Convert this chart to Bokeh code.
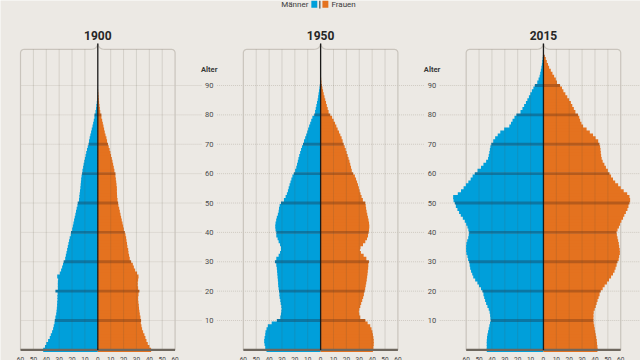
import numpy as np
from bokeh.plotting import figure
from bokeh.models import Range1d
from bokeh.core.properties import value
from bokeh.embed import file_html
from bokeh.resources import INLINE

# ---------------- data ----------------
years = ["1900", "1950", "2015"]
ages = list(range(0, 101))
age_ticks = [10, 20, 30, 40, 50, 60, 70, 80, 90]
x_ticks = [-60, -50, -40, -30, -20, -10, 0, 10, 20, 30, 40, 50, 60]
legend_labels = ["Männer", "Frauen"]
axis_title = "Alter"

men_1900 = [42.4, 41.0, 40.0, 38.6, 37.3, 36.5, 35.5, 34.7, 34.2, 33.6,
            33.4, 32.9, 32.3, 32.0, 31.8, 31.6, 31.5, 31.3, 31.3, 31.2,
            32.9, 31.0, 31.0, 31.0, 30.8, 31.5, 29.5, 28.5, 27.7, 27.0,
            26.5, 25.3, 24.8, 24.3, 23.8, 23.3, 22.8, 22.3, 21.8, 21.0,
            20.8, 19.9, 19.4, 18.9, 18.4, 17.9, 17.4, 16.9, 16.4, 15.8,
            15.6, 14.6, 14.3, 14.1, 13.8, 13.5, 13.3, 13.1, 12.9, 12.6,
            12.2, 11.9, 11.4, 11.0, 10.5, 10.0, 9.5, 9.0, 8.4, 7.8,
            7.2, 6.8, 6.3, 5.8, 5.2, 4.7, 4.1, 3.6, 3.1, 2.6,
            2.6, 1.8, 1.4, 1.1, 0.8, 0.5, 0.4, 0.3, 0.15, 0.05,
            0, 0, 0, 0, 0, 0, 0, 0, 0, 0, 0]
women_1900 = [41.4, 40.1, 38.8, 37.8, 37.0, 36.2, 35.2, 34.4, 33.9, 33.4,
              33.6, 33.1, 32.6, 32.3, 32.0, 31.8, 31.5, 31.3, 31.3, 31.6,
              32.3, 31.3, 31.0, 31.0, 31.3, 31.6, 30.5, 29.0, 28.0, 27.2,
              25.9, 24.8, 24.3, 23.8, 23.6, 23.0, 22.7, 22.3, 22.0, 21.5,
              21.0, 20.2, 19.7, 19.2, 18.6, 18.1, 17.6, 17.1, 16.6, 16.0,
              15.8, 15.3, 15.0, 14.9, 14.8, 14.8, 14.5, 14.3, 14.0, 13.7,
              13.7, 12.9, 12.4, 11.9, 11.4, 10.9, 10.3, 9.8, 9.2, 8.5,
              7.9, 7.2, 6.7, 6.0, 5.4, 4.9, 4.4, 3.9, 3.4, 2.8,
              2.8, 1.9, 1.6, 1.3, 1.0, 0.8, 0.6, 0.4, 0.25, 0.1,
              0, 0, 0, 0, 0, 0, 0, 0, 0, 0, 0]
men_1950 = [42.0, 43.0, 43.5, 43.8, 43.5, 43.0, 42.8, 42.0, 41.0, 38.0,
            34.0, 31.3, 30.8, 30.5, 30.3, 30.5, 31.0, 31.3, 31.8, 32.0,
            32.3, 32.6, 32.9, 33.0, 33.2, 33.4, 33.6, 33.8, 34.0, 34.4,
            35.5, 34.4, 32.6, 31.5, 30.8, 30.8, 31.5, 32.6, 33.4, 34.4,
            34.4, 35.0, 35.2, 35.0, 34.5, 34.0, 33.2, 32.6, 32.3, 31.8,
            30.8, 28.5, 27.2, 26.2, 25.4, 24.8, 24.1, 23.4, 22.7, 21.9,
            20.8, 19.8, 18.9, 18.3, 17.7, 17.2, 16.6, 15.9, 15.2, 14.5,
            13.7, 12.9, 12.0, 11.2, 10.4, 9.7, 8.9, 8.1, 7.3, 6.4,
            5.0, 4.3, 3.8, 3.3, 2.8, 2.3, 1.9, 1.6, 1.2, 0.9,
            0.6, 0.4, 0.25, 0.15, 0.1, 0, 0, 0, 0, 0, 0]
women_1950 = [40.6, 41.0, 41.2, 41.2, 41.0, 40.6, 40.2, 39.5, 38.5, 36.5,
              34.7, 30.8, 30.0, 29.7, 30.0, 30.8, 31.5, 32.3, 33.0, 33.6,
              34.2, 34.6, 35.0, 35.4, 35.8, 36.1, 36.4, 36.6, 36.9, 37.0,
              37.5, 35.5, 33.4, 31.3, 30.5, 31.0, 32.9, 34.7, 36.0, 36.8,
              37.3, 37.6, 37.8, 37.6, 37.2, 36.7, 36.2, 35.7, 35.3, 35.0,
              34.7, 32.8, 31.8, 31.0, 30.3, 29.7, 29.0, 28.3, 27.5, 26.6,
              25.3, 24.2, 23.6, 23.0, 22.4, 21.7, 21.0, 20.2, 19.5, 18.7,
              17.9, 17.1, 16.3, 15.3, 14.3, 13.2, 12.2, 11.2, 10.1, 8.9,
              7.5, 6.2, 5.5, 4.8, 4.2, 3.6, 3.0, 2.4, 1.9, 1.4,
              0.9, 0.6, 0.4, 0.25, 0.15, 0.1, 0, 0, 0, 0, 0]
men_2015 = [44.0, 44.0, 44.0, 44.0, 43.8, 43.5, 43.0, 42.5, 42.0, 41.5,
            40.9, 41.2, 41.4, 41.8, 42.5, 43.5, 44.5, 45.3, 46.0, 46.6,
            47.4, 48.5, 50.0, 51.3, 53.0, 54.5, 55.3, 56.2, 56.9, 57.3,
            57.7, 58.5, 59.0, 59.8, 60.0, 60.0, 59.8, 59.2, 58.4, 58.0,
            57.7, 58.3, 59.0, 60.0, 61.1, 62.6, 64.2, 65.5, 66.8, 68.0,
            68.8, 69.8, 70.1, 66.5, 64.0, 62.0, 60.2, 58.3, 56.5, 55.0,
            53.3, 51.2, 48.5, 46.6, 44.5, 43.0, 42.5, 42.0, 41.6, 41.2,
            40.5, 39.0, 37.5, 35.5, 33.5, 30.5, 26.5, 25.2, 24.0, 22.5,
            21.0, 17.8, 16.3, 15.0, 13.6, 12.5, 11.3, 10.2, 9.0, 7.8,
            6.7, 4.8, 3.8, 3.0, 2.5, 2.0, 1.6, 1.2, 0.9, 0.6, 0.4]
women_2015 = [41.9, 41.9, 41.6, 41.4, 41.0, 40.6, 40.2, 39.8, 39.4, 39.0,
              38.8, 38.8, 38.8, 39.0, 39.8, 40.6, 41.3, 42.0, 42.8, 43.6,
              44.5, 46.0, 47.5, 49.3, 50.9, 52.5, 54.0, 55.2, 56.0, 56.8,
              57.5, 58.4, 58.8, 59.3, 59.2, 58.8, 58.5, 58.0, 57.5, 57.0,
              56.7, 57.5, 58.6, 59.5, 60.5, 61.8, 62.8, 64.0, 65.2, 66.0,
              66.8, 67.3, 66.8, 65.0, 62.3, 60.0, 58.0, 55.7, 54.0, 52.5,
              51.3, 50.0, 48.5, 47.3, 46.0, 45.2, 44.8, 44.5, 44.3, 44.0,
              43.5, 42.5, 40.5, 38.5, 36.0, 33.5, 30.8, 29.5, 28.5, 27.8,
              26.8, 24.8, 23.6, 22.4, 21.3, 20.0, 18.5, 17.0, 15.5, 14.4,
              12.9, 10.5, 9.6, 8.3, 7.0, 5.7, 4.4, 3.5, 2.6, 1.8, 1.0]

men = [men_1900, men_1950, men_2015]
women = [women_1900, women_1950, women_2015]

# ---------------- style ----------------
BG = "#ECE9E4"
BLUE, BLUE_D = "#009FDA", "#0B76A3"
ORANGE, ORANGE_D = "#E4721F", "#B65A1B"
GRID = "#C9C4BC"
FONT = "Roboto"
OFFSETS = [0, 173, 346]      # panel centres in data units
TOP, PEAK = 102.3, 104.3     # box top and brace peak (age units)
LABEL_DX = 86.5              # y-label column left of panels 2 and 3
PX_X, PX_Y = 1.288, 2.9375   # px per unit

p = figure(width=640, height=360,
           x_range=Range1d(-75.54, 421.35), y_range=Range1d(-3.61, 118.94),
           output_backend="svg", toolbar_location=None, min_border=0,
           x_axis_location=None, y_axis_location=None)
p.grid.visible = False
p.outline_line_color = None
p.background_fill_color = BG
p.border_fill_color = BG

# dotted horizontal gridlines (broken around the age labels)
lab_x = [OFFSETS[1] - LABEL_DX, OFFSETS[2] - LABEL_DX]
seg_bounds = [(OFFSETS[0] - 60, lab_x[0] - 6), (lab_x[0] + 6, lab_x[1] - 6), (lab_x[1] + 6, 421.35)]
x0s, x1s, ys = [], [], []
for a in age_ticks:
    for (s, e) in seg_bounds:
        x0s.append(s); x1s.append(e); ys.append(a)
p.segment(x0=x0s, x1=x1s, y0=ys, y1=ys, line_color="#CFCAC2", line_width=1, line_dash="1 1")

# panel boxes with brace on top
def box_path(off):
    rh, rv = 3.5 / PX_X, 3.5 / PX_Y
    xs = [off - 60, off - 60]
    yy = [0, TOP - rv]
    for t in np.linspace(np.pi, np.pi / 2, 7)[1:]:
        xs.append(off - 60 + rh + rh * np.cos(t)); yy.append(TOP - rv + rv * np.sin(t))
    xs.append(off - 5.5); yy.append(TOP)
    for t in np.linspace(0, 1, 8)[1:]:
        bx = (1 - t) ** 2 * (off - 5.5) + 2 * (1 - t) * t * (off - 0.6) + t ** 2 * off
        by = (1 - t) ** 2 * TOP + 2 * (1 - t) * t * TOP + t ** 2 * PEAK
        xs.append(bx); yy.append(by)
    rx = [2 * off - v for v in xs[::-1]]
    ry = yy[::-1]
    return xs + rx[1:], yy + ry[1:]

for off in OFFSETS:
    bx, by = box_path(off)
    p.line(bx, by, line_color=GRID, line_width=1.2)

# bars: ordinary ages first (slightly overlapping to avoid seams), decade ages (darker) on top
for k, off in enumerate(OFFSETS):
    m = np.array(men[k]); w = np.array(women[k]); a = np.array(ages)
    dec = (a % 10 == 0) & (a > 0)
    for mask, cb, co, h in ((~dec, BLUE, ORANGE, 1.4), (dec, BLUE_D, ORANGE_D, 1.0)):
        aa, mm, ww = a[mask], m[mask], w[mask]
        p.hbar(y=aa, left=off - mm, right=np.full(len(aa), off), height=h,
               fill_color=cb, line_color=None)
        p.hbar(y=aa, left=np.full(len(aa), off), right=off + ww, height=h,
               fill_color=co, line_color=None)

# vertical gridlines over everything (translucent)
gx, gy0, gy1 = [], [], []
for off in OFFSETS:
    for t in x_ticks:
        if abs(t) in (0, 60):
            continue
        gx.append(off + t); gy0.append(0); gy1.append(TOP)
p.segment(x0=gx, x1=gx, y0=gy0, y1=gy1, line_color="#5a5040", line_alpha=0.16, line_width=1)

# baseline and centre line
for off in OFFSETS:
    p.segment(x0=[off - 60], x1=[off + 60], y0=[0], y1=[0], line_color="#6E675E", line_width=2.4)
    p.segment(x0=[off], x1=[off], y0=[0], y1=[PEAK], line_color="#1a1a1a", line_width=1.3)

# titles
p.text(x=OFFSETS, y=[107.0] * 3, text=years, text_font=value(FONT), text_font_style="bold",
       text_font_size="12px", text_align="center", text_baseline="middle", text_color="#262626")

# age labels
for lx in lab_x:
    p.text(x=[lx], y=[95.4], text=[axis_title], text_font=value(FONT), text_font_style="bold",
           text_font_size="7.5px", text_align="center", text_baseline="middle", text_color="#3a3a3a")
    p.text(x=[lx] * len(age_ticks), y=age_ticks, text=[str(v) for v in age_ticks],
           text_font=value(FONT), text_font_size="7.5px", text_align="center",
           text_baseline="middle", text_color="#4a4a4a")

# bottom tick labels
tx, tt = [], []
for off in OFFSETS:
    for t in x_ticks:
        tx.append(off + t); tt.append(str(abs(t)))
p.text(x=tx, y=[-3.4] * len(tx), text=tt, text_font=value(FONT), text_font_size="6.5px",
       text_align="center", text_baseline="alphabetic", text_color="#4a4a4a")

# legend (top centre)
c = OFFSETS[1]
p.text(x=[c - 9.5], y=[117.6], text=[legend_labels[0]], text_font=value(FONT), text_font_size="8px",
       text_align="right", text_baseline="middle", text_color="#3a3a3a")
p.quad(left=[c - 7.2], right=[c - 2.6], top=[118.94], bottom=[116.5], fill_color=BLUE, line_color=None)
p.segment(x0=[c - 0.6], x1=[c - 0.6], y0=[118.94], y1=[116.2], line_color="#333333", line_width=1)
p.quad(left=[c + 1.4], right=[c + 6.0], top=[118.94], bottom=[116.5], fill_color=ORANGE, line_color=None)
p.text(x=[c + 8.4], y=[117.6], text=[legend_labels[1]], text_font=value(FONT), text_font_size="8px",
       text_align="left", text_baseline="middle", text_color="#3a3a3a")

open("out.html", "w").write(file_html(p, INLINE))
